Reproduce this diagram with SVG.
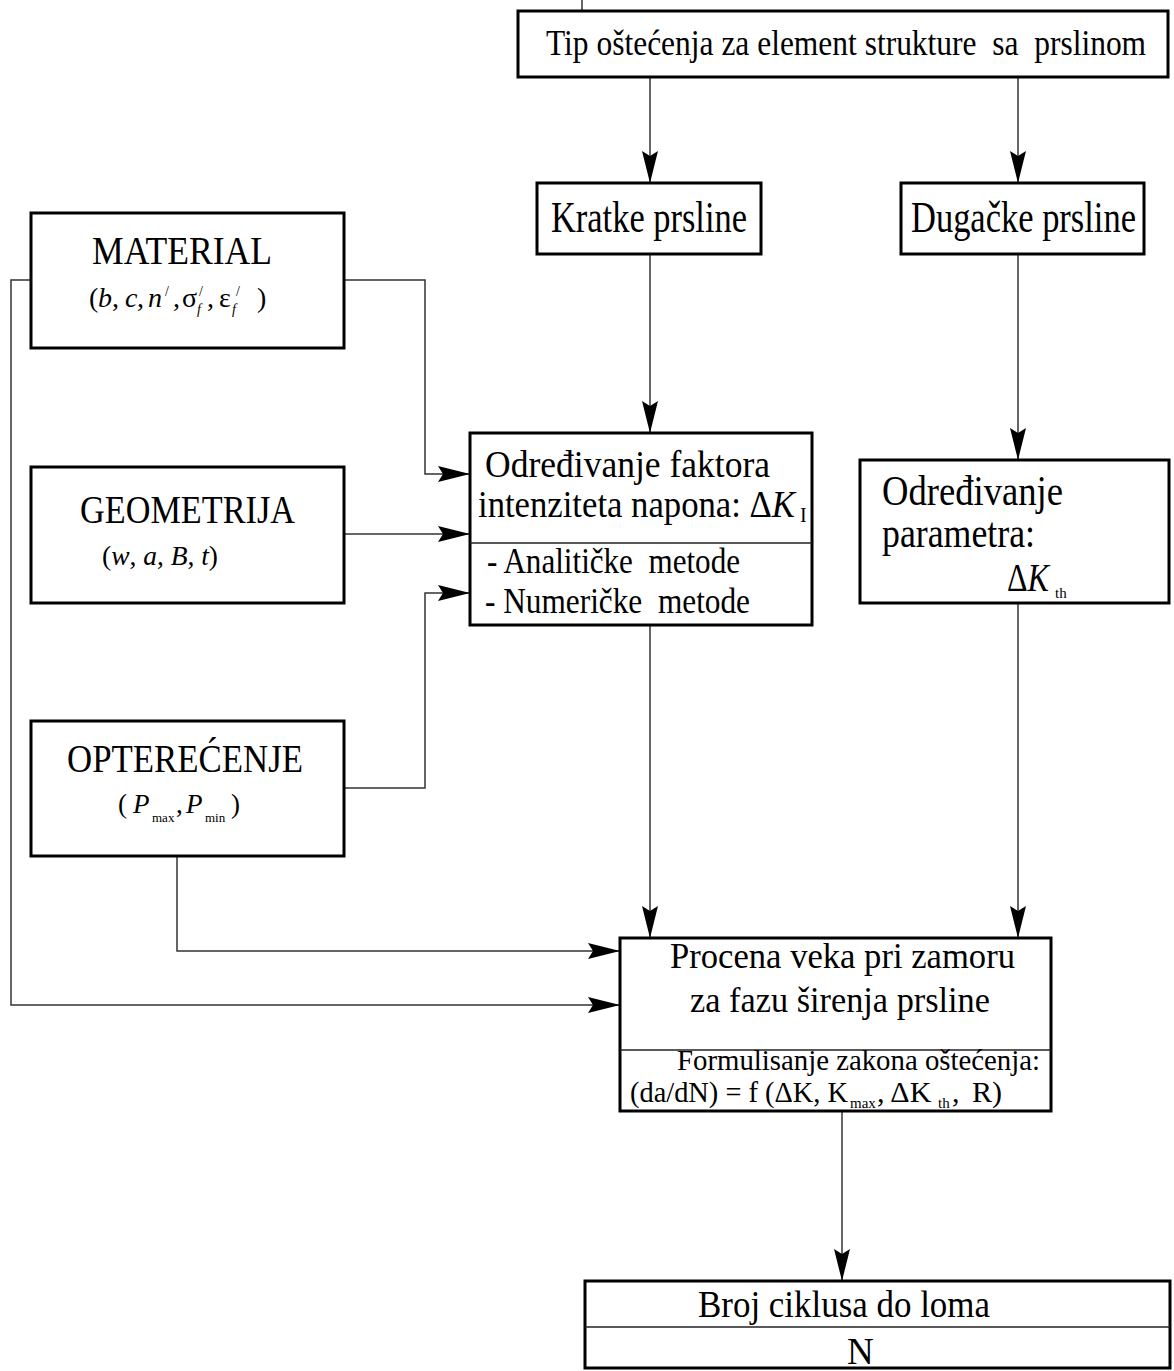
<svg xmlns="http://www.w3.org/2000/svg" width="1174" height="1371" viewBox="0 0 1174 1371">
<defs>
<style>
.box{fill:#fff;stroke:#000;stroke-width:3}
.dv{stroke:#222;stroke-width:1.5}
.cn{fill:none;stroke:#333;stroke-width:1.5}
.ar{marker-end:url(#ah)}
text{font-family:"Liberation Serif","Times New Roman",serif;fill:#000}
.it{font-style:italic}
</style>
<marker id="ah" markerUnits="userSpaceOnUse" viewBox="0 0 32 16" markerWidth="32" markerHeight="16" refX="32" refY="8" orient="auto">
<path d="M0,0 L32,8 L0,16 L5,8 Z" fill="#000"/>
</marker>
</defs>
<rect width="1174" height="1371" fill="#fff"/>

<g id="connectors">
<path class="cn" d="M582,0 V11"/>
<path class="cn ar" d="M650,77 V183"/>
<path class="cn ar" d="M1018,77 V183"/>
<path class="cn ar" d="M650,254 V433"/>
<path class="cn ar" d="M1018,254 V460"/>
<path class="cn ar" d="M345,280 H425 V474 H470"/>
<path class="cn ar" d="M345,534 H470"/>
<path class="cn ar" d="M345,788 H425 V593 H470"/>
<path class="cn ar" d="M31,280 H11 V1005 H620"/>
<path class="cn ar" d="M177,856 V951 H620"/>
<path class="cn ar" d="M650,625 V938"/>
<path class="cn ar" d="M1018,603 V938"/>
<path class="cn ar" d="M842,1111 V1281"/>
</g>

<g id="tip">
<rect class="box" x="518" y="11" width="650" height="66"/>
<text xml:space="preserve" transform="translate(546,55) scale(0.897,1)" x="0" y="0" font-size="35" textLength="669" lengthAdjust="spacingAndGlyphs">Tip oštećenja za element strukture  sa  prslinom</text>
</g>

<g id="kratke">
<rect class="box" x="537" y="183" width="224" height="71"/>
<text transform="translate(551,232) scale(0.784,1)" x="0" y="0" font-size="44" textLength="250" lengthAdjust="spacingAndGlyphs">Kratke prsline</text>
</g>

<g id="dugacke">
<rect class="box" x="901" y="183" width="243" height="71"/>
<text transform="translate(911,232) scale(0.76,1)" x="0" y="0" font-size="44" textLength="296" lengthAdjust="spacingAndGlyphs">Dugačke prsline</text>
</g>

<g id="material">
<rect class="box" x="31" y="213" width="313" height="135"/>
<text x="92" y="264" font-size="39" textLength="180" lengthAdjust="spacingAndGlyphs">MATERIAL</text>
<g font-size="28">
<text x="89" y="307">(</text>
<text x="98" y="307" class="it">b</text>
<text x="112" y="307">,</text>
<text x="125" y="307" class="it">c</text>
<text x="137" y="307">,</text>
<text x="148" y="307" class="it">n</text>
<text x="165" y="296" font-size="14">/</text>
<text x="173" y="307">,</text>
<text x="182" y="307">σ</text>
<text x="199" y="296" font-size="14">/</text>
<text x="197" y="314" font-size="14" class="it">f</text>
<text x="207" y="307">,</text>
<text x="219" y="307">ε</text>
<text x="236" y="296" font-size="14">/</text>
<text x="232" y="314" font-size="14" class="it">f</text>
<text x="257" y="307">)</text>
</g>
</g>

<g id="geometrija">
<rect class="box" x="31" y="467" width="313" height="136"/>
<text x="80" y="523" font-size="39" textLength="215" lengthAdjust="spacingAndGlyphs">GEOMETRIJA</text>
<text x="102" y="565" font-size="28" textLength="116" lengthAdjust="spacingAndGlyphs">(<tspan class="it">w</tspan>, <tspan class="it">a</tspan>, <tspan class="it">B</tspan>, <tspan class="it">t</tspan>)</text>
</g>

<g id="opterecenje">
<rect class="box" x="31" y="721" width="313" height="135"/>
<text x="67" y="772" font-size="39" textLength="236" lengthAdjust="spacingAndGlyphs">OPTEREĆENJE</text>
<g font-size="27">
<text x="118" y="813">(</text>
<text x="133" y="813" class="it">P</text>
<text x="152" y="822" font-size="13">max</text>
<text x="176" y="813">,</text>
<text x="186" y="813" class="it">P</text>
<text x="205" y="822" font-size="13">min</text>
<text x="231" y="813">)</text>
</g>
</g>

<g id="faktor">
<rect class="box" x="470" y="433" width="342" height="192"/>
<line class="dv" x1="470" y1="543" x2="812" y2="543"/>
<text x="485" y="477" font-size="38" textLength="285" lengthAdjust="spacingAndGlyphs">Određivanje faktora</text>
<text x="478" y="517" font-size="38" textLength="317" lengthAdjust="spacingAndGlyphs">intenziteta napona: Δ<tspan class="it">K</tspan></text>
<text x="800" y="522" font-size="20">I</text>
<text xml:space="preserve" x="487" y="573" font-size="35" textLength="253" lengthAdjust="spacingAndGlyphs">- Analitičke  metode</text>
<text xml:space="preserve" x="485" y="613" font-size="35" textLength="265" lengthAdjust="spacingAndGlyphs">- Numeričke  metode</text>
</g>

<g id="parametar">
<rect class="box" x="860" y="460" width="309" height="143"/>
<text x="882" y="505" font-size="42" textLength="181" lengthAdjust="spacingAndGlyphs">Određivanje</text>
<text x="882" y="547" font-size="42" textLength="153" lengthAdjust="spacingAndGlyphs">parametra:</text>
<text x="1007" y="591" font-size="40" textLength="42" lengthAdjust="spacingAndGlyphs">Δ<tspan class="it">K</tspan></text>
<text x="1055" y="598" font-size="15">th</text>
</g>

<g id="procena">
<rect class="box" x="620" y="938" width="431" height="173"/>
<line class="dv" x1="620" y1="1050" x2="1051" y2="1050"/>
<text x="670" y="968" font-size="36" textLength="345" lengthAdjust="spacingAndGlyphs">Procena veka pri zamoru</text>
<text x="690" y="1012" font-size="36" textLength="300" lengthAdjust="spacingAndGlyphs">za fazu širenja prsline</text>
<text x="677" y="1070" font-size="29" textLength="363" lengthAdjust="spacingAndGlyphs">Formulisanje zakona oštećenja:</text>
<g font-size="30">
<text x="630" y="1102" textLength="218" lengthAdjust="spacingAndGlyphs">(da/dN) = f (ΔK, K</text>
<text x="850" y="1108" font-size="15">max</text>
<text x="877" y="1102">, ΔK</text>
<text x="938" y="1108" font-size="15">th</text>
<text x="952" y="1102">,</text>
<text x="972" y="1102">R)</text>
</g>
</g>

<g id="broj">
<rect class="box" x="585" y="1281" width="585" height="87"/>
<line class="dv" x1="585" y1="1327" x2="1170" y2="1327"/>
<text x="698" y="1317" font-size="37" textLength="292" lengthAdjust="spacingAndGlyphs">Broj ciklusa do loma</text>
<text x="847" y="1364" font-size="37">N</text>
</g>
</svg>
